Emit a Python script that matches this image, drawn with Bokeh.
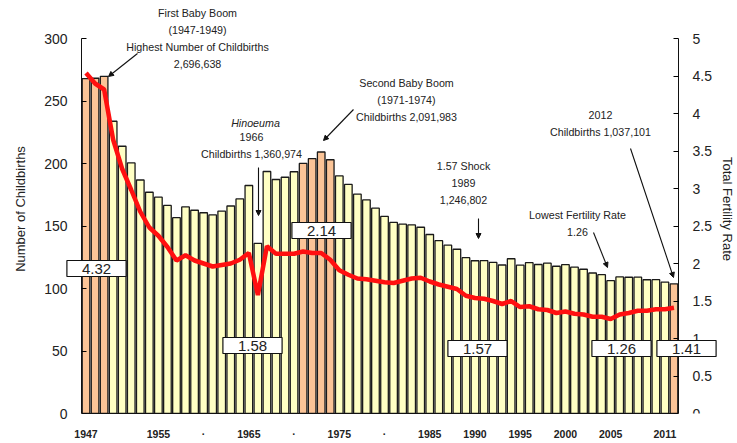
from bokeh.plotting import figure
from bokeh.models import Range1d, LinearAxis, FixedTicker, Label, Arrow, NormalHead, ColumnDataSource
from bokeh.embed import file_html
from bokeh.resources import INLINE

years = list(range(1947, 2013))
# births in units of 10,000
births = [267.9, 268.2, 269.7, 233.8, 213.8, 200.5, 186.8, 177.0, 173.1, 166.5,
          156.7, 165.3, 162.6, 160.6, 158.9, 161.9, 166.0, 171.7, 182.4, 136.1,
          193.6, 187.2, 189.0, 193.4, 200.1, 203.9, 209.2, 203.0, 190.1, 183.3,
          175.5, 170.9, 164.3, 157.7, 152.9, 151.5, 150.9, 149.0, 143.2, 138.3,
          134.7, 131.4, 124.7, 122.2, 122.3, 120.9, 118.8, 123.8, 118.7, 120.7,
          119.2, 120.3, 117.8, 119.1, 117.1, 115.4, 112.4, 111.1, 106.3, 109.3,
          109.0, 109.1, 107.0, 107.1, 105.1, 103.7]
tfr = [4.54, 4.40, 4.32, 3.65, 3.26, 2.98, 2.69, 2.48, 2.37, 2.22,
       2.04, 2.11, 2.04, 2.00, 1.96, 1.98, 2.00, 2.05, 2.14, 1.58,
       2.23, 2.13, 2.13, 2.13, 2.16, 2.14, 2.14, 2.05, 1.91, 1.85,
       1.80, 1.79, 1.77, 1.75, 1.74, 1.77, 1.80, 1.81, 1.76, 1.72,
       1.69, 1.66, 1.57, 1.54, 1.53, 1.50, 1.46, 1.50, 1.42, 1.43,
       1.39, 1.38, 1.34, 1.36, 1.33, 1.32, 1.29, 1.29, 1.26, 1.32,
       1.34, 1.37, 1.37, 1.39, 1.39, 1.41]
boom_years = [1947, 1948, 1949, 1971, 1972, 1973, 1974, 2012]
x_ticks = [1947, 1955, 1960, 1965, 1970, 1975, 1980, 1985, 1990, 1995, 2000, 2005, 2011]
x_tick_labels = ["1947", "1955", "·", "1965", "·", "1975", "·", "1985", "1990", "1995", "2000", "2005", "2011"]
left_ticks = [0, 50, 100, 150, 200, 250, 300]
right_ticks = [0, 0.5, 1, 1.5, 2, 2.5, 3, 3.5, 4, 4.5, 5]
value_texts = ["4.32", "1.58", "2.14", "1.57", "1.26", "1.41"]

YELLOW = "#ffffc4"
ORANGE = "#fbc497"
colors = [ORANGE if y in boom_years else YELLOW for y in years]

src = ColumnDataSource(dict(x=years, births=births, tfr=tfr, color=colors))

# ---- layout (screen pixels) ----
W, H = 737, 443
AX_L, AX_R = 81, 678          # where the value axes sit
FR_L, FR_R = 64, 719          # drawing frame (wider so that boxes are not clipped)
FR_T, FR_B = 4, 413
X0, X1 = years[0] - 0.5, years[-1] + 0.5
PXX = (AX_R - AX_L) / (X1 - X0)
Y_MAX_L, Y_MAX_R = 300, 5
PXY = (FR_B - 38) / Y_MAX_L

def px2x(px):
    return X0 + (px - AX_L) / PXX

def py2y(py):
    return (FR_B - py) / PXY

p = figure(width=W, height=H, output_backend="svg", toolbar_location=None,
           x_range=Range1d(px2x(FR_L), px2x(FR_R)), y_range=Range1d(0, py2y(FR_T)),
           min_border_left=FR_L, min_border_right=W - FR_R,
           min_border_top=FR_T, min_border_bottom=H - FR_B)
p.outline_line_color = None
p.xgrid.visible = False
p.ygrid.visible = False
p.background_fill_color = "white"
p.border_fill_color = "white"

p.extra_y_ranges = {"tfr": Range1d(0, py2y(FR_T) * Y_MAX_R / Y_MAX_L)}

p.vbar(x="x", top="births", width=0.84, fill_color="color", line_color="#1a1a1a",
       line_width=1.3, source=src)
p.line(x="x", y="tfr", y_range_name="tfr", line_color="#ff1010", line_width=4.5, source=src)

FONT = "Liberation Sans"
INK = "#222222"

def no_minor(ax):
    ax.minor_tick_in = 0
    ax.minor_tick_out = 0

# bottom axis
xa = p.xaxis[0]
xa.ticker = FixedTicker(ticks=x_ticks)
xa.bounds = (X0, X1)
xa.major_label_overrides = {t: l for t, l in zip(x_ticks, x_tick_labels)}
xa.major_tick_in = 0
xa.major_tick_out = 0
no_minor(xa)
xa.major_label_standoff = 14
xa.major_label_text_font = FONT
xa.major_label_text_font_style = "bold"
xa.major_label_text_font_size = "10.5px"
xa.major_label_text_color = INK
xa.axis_line_color = "#111111"

# left axis line + ticks at the first bar edge
ya = p.yaxis[0]
ya.ticker = FixedTicker(ticks=left_ticks)
ya.fixed_location = X0
ya.bounds = (0, Y_MAX_L)
ya.major_tick_in = 5
ya.major_tick_out = 0
no_minor(ya)
ya.major_label_text_color = None
ya.axis_line_color = "#111111"

# left tick labels + title
yl = LinearAxis(ticker=FixedTicker(ticks=left_ticks))
yl.axis_line_color = None
yl.major_tick_in = 0
yl.major_tick_out = 0
no_minor(yl)
yl.major_label_standoff = FR_L - AX_L + 14
yl.major_label_text_font = FONT
yl.major_label_text_font_size = "14px"
yl.major_label_text_color = INK
yl.axis_label = "Number of Childbirths"
yl.axis_label_text_font = FONT
yl.axis_label_text_font_style = "normal"
yl.axis_label_text_font_size = "13px"
yl.axis_label_text_color = INK
yl.axis_label_standoff = 13
p.add_layout(yl, "left")

# right axis at the last bar edge
ra = LinearAxis(y_range_name="tfr", ticker=FixedTicker(ticks=right_ticks))
ra.fixed_location = X1
ra.bounds = (0, Y_MAX_R)
ra.major_label_overrides = {0: "0", 1: "1", 2: "2", 3: "3", 4: "4", 5: "5"}
ra.major_tick_in = 5
ra.major_tick_out = 0
no_minor(ra)
ra.major_label_standoff = 14
ra.major_label_text_font = FONT
ra.major_label_text_font_size = "14px"
ra.major_label_text_color = INK
ra.axis_line_color = "#111111"
p.add_layout(ra, "right")

# right title
rt = LinearAxis(y_range_name="tfr", ticker=FixedTicker(ticks=[]))
rt.axis_line_color = None
rt.major_tick_in = 0
rt.major_tick_out = 0
no_minor(rt)
rt.major_label_standoff = 0
rt.axis_label = "Total Fertility Rate"
rt.axis_label_text_font = FONT
rt.axis_label_text_font_style = "normal"
rt.axis_label_text_font_size = "13px"
rt.axis_label_text_color = INK
rt.axis_label_standoff = 0
p.add_layout(rt, "right")

# annotation texts (positioned by screen pixels: centre x, centre of first line)
def note(cx, cy, text, style="normal"):
    p.add_layout(Label(x=px2x(cx), y=py2y(cy - 6.5), text=text, text_align="center",
                       text_baseline="top", text_font=FONT, text_font_size="10.7px",
                       text_font_style=style, text_color=INK, text_line_height=1.42))

note(197, 13, "First Baby Boom\n(1947-1949)\nHighest Number of Childbirths\n2,696,638")
note(255, 123, "Hinoeuma", "italic")
note(251, 137, "1966\nChildbirths 1,360,974")
note(406, 83, "Second Baby Boom\n(1971-1974)\nChildbirths 2,091,983")
note(463, 166, "1.57 Shock\n1989\n1,246,802")
note(577, 215, "Lowest Fertility Rate\n1.26")
note(600, 115, "2012\nChildbirths 1,037,101")

# arrows
def arrow(x0, y0, x1, y1):
    p.add_layout(Arrow(x_start=px2x(x0), y_start=py2y(y0), x_end=px2x(x1), y_end=py2y(y1),
                       line_color="#111111", line_width=1.1,
                       end=NormalHead(size=5, fill_color="#111111", line_color="#111111")))

arrow(137, 53, 108, 76)
arrow(258, 167, 258, 215)
arrow(353, 109, 323, 140)
arrow(478, 218, 478, 238)
arrow(593, 232, 607, 267)
arrow(630, 148, 673, 277)

# value boxes (centres in screen pixels)
box_pos = [(96, 268), (252, 345), (321, 230), (477, 348), (621, 348), (686, 348)]
for (bx, by), t in zip(box_pos, value_texts):
    p.add_layout(Label(x=px2x(bx), y=py2y(by), text=t, text_align="center", text_baseline="middle",
                       text_font=FONT, text_font_size="15px", text_color=INK,
                       background_fill_color="white", border_line_color="#111111",
                       border_line_width=1.2,
                       padding=dict(left=15, right=15, top=3, bottom=3)))

open("out.html", "w").write(file_html(p, INLINE))
